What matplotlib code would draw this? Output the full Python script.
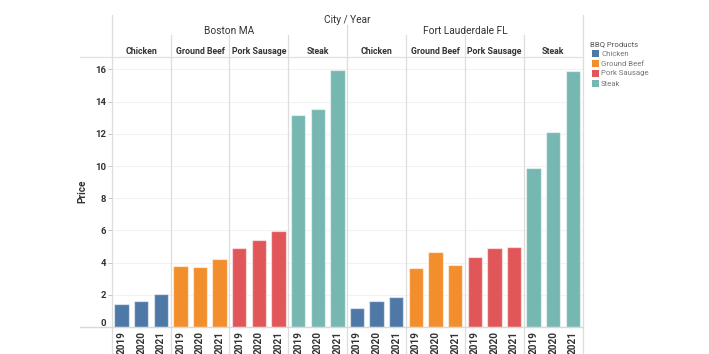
import matplotlib
matplotlib.use("Agg")
import matplotlib.pyplot as plt
from matplotlib.lines import Line2D
from matplotlib.patches import Rectangle
import matplotlib.transforms as mtransforms

plt.rcParams['font.family'] = ['Roboto', 'DejaVu Sans']

cities = ["Boston MA", "Fort Lauderdale FL"]
products = ["Chicken", "Ground Beef", "Pork Sausage", "Steak"]
years = ["2019", "2020", "2021"]
colors = {"Chicken": "#4e79a7", "Ground Beef": "#f28e2b",
          "Pork Sausage": "#e15759", "Steak": "#76b7b2"}

boston_chicken = [1.41, 1.64, 2.03]
boston_ground_beef = [3.79, 3.73, 4.22]
boston_pork_sausage = [4.93, 5.39, 5.99]
boston_steak = [13.15, 13.54, 15.99]
fl_chicken = [1.19, 1.60, 1.86]
fl_ground_beef = [3.69, 4.66, 3.83]
fl_pork_sausage = [4.37, 4.93, 4.99]
fl_steak = [9.88, 12.14, 15.88]

data = {
    "Boston MA": [boston_chicken, boston_ground_beef, boston_pork_sausage, boston_steak],
    "Fort Lauderdale FL": [fl_chicken, fl_ground_beef, fl_pork_sausage, fl_steak],
}

W, H = 709, 354
fig = plt.figure(figsize=(W / 100, H / 100), dpi=100)

def fx(px):
    return px / W

def fy(py):
    return 1 - py / H

ax_left, ax_right, ax_top, ax_bottom = 111.7, 582.7, 56.7, 327.0
ax = fig.add_axes([fx(ax_left), fy(ax_bottom), fx(ax_right - ax_left), (ax_bottom - ax_top) / H])

xs, heights, cols, labels = [], [], [], []
i = 0
for c in cities:
    for p, vals in zip(products, data[c]):
        for y, v in zip(years, vals):
            xs.append(i)
            heights.append(v)
            cols.append(colors[p])
            labels.append(y)
            i += 1

ax.bar(xs, heights, width=0.73, color=cols, edgecolor=(1, 1, 1, 0.55), linewidth=0.9, zorder=3)
ax.set_xlim(-0.5, len(xs) - 0.5)
ax.set_ylim(0, (ax_bottom - ax_top) / 16.1)
ax.set_yticks(range(0, 17, 2))
ax.set_yticklabels([str(v) for v in range(0, 17, 2)], fontsize=6.8, fontweight='bold', color='#333333')
ax.tick_params(axis='y', length=3, width=0.6, color='#bbbbbb', pad=1)
# lift the "0" label above the baseline as in the reference
zero_lbl = ax.get_yticklabels()[0]
zero_lbl.set_transform(zero_lbl.get_transform() + mtransforms.ScaledTranslation(0, 5 / 100, fig.dpi_scale_trans))
ax.set_xticks(xs)
ax.set_xticklabels(labels, rotation=90, fontsize=7.2, fontweight='bold', color='#333333')
ax.tick_params(axis='x', length=0, pad=3)
for s in ax.spines.values():
    s.set_visible(False)
ax.yaxis.grid(True, color='#f2f2f2', linewidth=0.8, zorder=0)
ax.set_axisbelow(True)
ax.set_ylabel("Price", fontsize=7.2, fontweight='bold', color='#333333')
ax.yaxis.set_label_coords((87 - ax_left) / (ax_right - ax_left), (ax_bottom - 191.7) / (ax_bottom - ax_top))

line_col = '#dddddd'
trans = mtransforms.blended_transform_factory(ax.transData, fig.transFigure)
n = len(xs)
for k in range(0, n + 1, 3):
    xv = k - 0.5
    if k == 0 or k == n:
        top = 15
    elif k == n // 2:
        top = 25
    else:
        top = 35
    fig.add_artist(Line2D([xv, xv], [fy(top), fy(354)], transform=trans, color=line_col, linewidth=0.9, zorder=1))

# horizontal header line and baseline
fig.add_artist(Line2D([fx(80), fx(ax_right)], [fy(56.7), fy(56.7)], color='#e0e0e0', linewidth=0.9))
fig.add_artist(Line2D([fx(80), fx(ax_right)], [fy(327.2), fy(327.2)], color='#d8d8d8', linewidth=1.0, zorder=5))

# headers
fig.text(fx(347), fy(20), "City / Year", ha='center', va='center', fontsize=7.3, color='#333333')
for ci, c in enumerate(cities):
    xc = ci * 12 + 5.5
    fig.text(xc, fy(30.5), c, transform=trans, ha='center', va='center', fontsize=7.3, color='#333333')
    for pi, p in enumerate(products):
        xp = ci * 12 + pi * 3 + 1
        fig.text(xp, fy(51), p, transform=trans, ha='center', va='center', fontsize=6.3,
                 fontweight='bold', color='#333333')

# legend
fig.text(fx(590), fy(44), "BBQ Products", ha='left', va='center', fontsize=5.6, color='#555555')
for li, p in enumerate(products):
    yc = 53.5 + li * 10
    fig.add_artist(Rectangle((fx(591.5), fy(yc + 3.5)), fx(7), 7 / H, facecolor=colors[p], edgecolor='none'))
    fig.text(fx(601), fy(yc), p, ha='left', va='center', fontsize=5.6, color='#777777')

fig.savefig("out.png", dpi=100)
